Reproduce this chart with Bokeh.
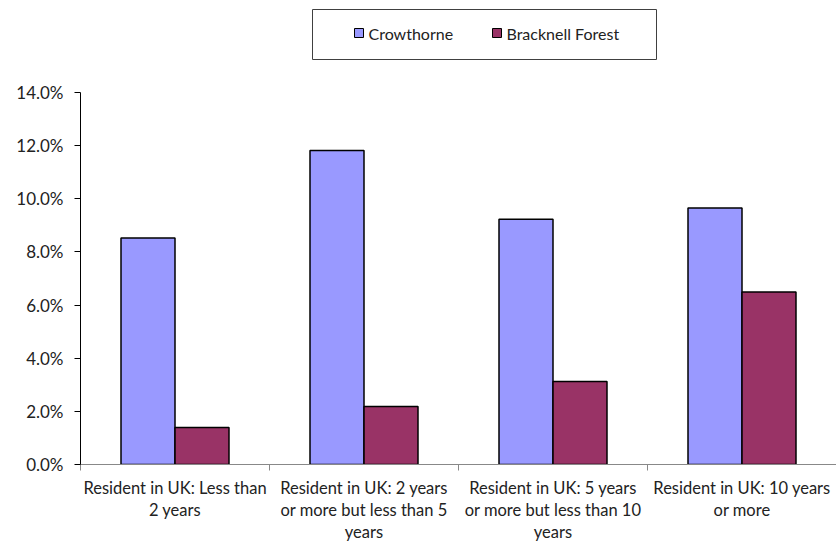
from bokeh.plotting import figure
from bokeh.models import (ColumnDataSource, FixedTicker, PrintfTickFormatter, Range1d, LinearAxis)
from bokeh.layouts import column
from bokeh.core.properties import value
from bokeh.embed import file_html
from bokeh.resources import INLINE

categories = [
    "Resident in UK: Less than\n2 years",
    "Resident in UK: 2 years\nor more but less than 5\nyears",
    "Resident in UK: 5 years\nor more but less than 10\nyears",
    "Resident in UK: 10 years\nor more",
]
series_names = ["Crowthorne", "Bracknell Forest"]
crowthorne = [8.52, 11.82, 9.23, 9.65]
bracknell = [1.39, 2.18, 3.12, 6.49]
y_ticks = [0, 2, 4, 6, 8, 10, 12, 14]

colors = ["#9999FF", "#993366"]
FONT = "Lato"
TXT = "#222222"
W = 836
LEFT = 80

# ---------- legend strip (data units == page pixels) ----------
LH = 62
lg = figure(width=W, height=LH, output_backend="svg", toolbar_location=None,
            x_range=Range1d(LEFT, W), y_range=Range1d(LH, 0),
            min_border_left=LEFT, min_border_right=0, min_border_top=0, min_border_bottom=0)
lg.outline_line_color = None
lg.xaxis.visible = False
lg.yaxis.visible = False
lg.xgrid.visible = False
lg.ygrid.visible = False
lg.quad(left=[312], right=[656], top=[9], bottom=[59], fill_color="white",
        line_color="#404040", line_width=1)
sq_x = [354, 492]
lg.quad(left=sq_x, right=[x + 9 for x in sq_x], top=[28, 28], bottom=[37, 37],
        fill_color=colors, line_color="black", line_width=1)
lg.text(x=[x + 14 for x in sq_x], y=[33, 33], text=series_names,
        text_font=value(FONT), text_font_size="16px", text_color=TXT,
        text_baseline="middle", text_align="left")

# ---------- main chart ----------
idx = list(range(len(categories)))
bar_w = 0.2857
src = ColumnDataSource(dict(
    xc=[i + 0.5 - bar_w / 2 for i in idx],
    xb=[i + 0.5 + bar_w / 2 for i in idx],
    crow=crowthorne,
    brack=bracknell,
))

p = figure(width=W, height=544 - LH, output_backend="svg", toolbar_location=None,
           x_range=Range1d(0, len(categories)), y_range=Range1d(0, 14),
           min_border_left=LEFT, min_border_right=0, min_border_top=92 - LH, min_border_bottom=79)
p.outline_line_color = None
p.xgrid.visible = False
p.ygrid.visible = False
p.xaxis.visible = False
p.yaxis.visible = False

p.vbar(x="xc", top="crow", width=bar_w, source=src, fill_color=colors[0],
       line_color="black", line_width=1.5)
p.vbar(x="xb", top="brack", width=bar_w, source=src, fill_color=colors[1],
       line_color="black", line_width=1.5)

ya = LinearAxis(ticker=FixedTicker(ticks=y_ticks), formatter=PrintfTickFormatter(format="%.1f%%"))
ya.axis_line_color = "black"
ya.major_tick_line_color = "black"
ya.major_tick_out = 6
ya.major_tick_in = 0
ya.minor_tick_line_color = None
ya.major_label_text_font = FONT
ya.major_label_text_font_size = "17px"
ya.major_label_text_color = TXT
ya.major_label_standoff = 11
p.add_layout(ya, "left")

xa = LinearAxis(ticker=FixedTicker(ticks=[i + 0.5 for i in idx],
                                   minor_ticks=list(range(len(categories) + 1))))
xa.major_label_overrides = {i + 0.5: c for i, c in zip(idx, categories)}
xa.axis_line_color = "#888888"
xa.major_tick_line_color = None
xa.major_tick_out = 0
xa.major_tick_in = 0
xa.minor_tick_line_color = "#888888"
xa.minor_tick_out = 6
xa.minor_tick_in = 0
xa.major_label_text_font = FONT
xa.major_label_text_font_size = "16.5px"
xa.major_label_text_color = TXT
xa.major_label_text_align = "center"
xa.major_label_text_line_height = 1.1
xa.major_label_standoff = 7
p.add_layout(xa, "below")

open("out.html", "w").write(file_html(column(lg, p, spacing=0), INLINE))
